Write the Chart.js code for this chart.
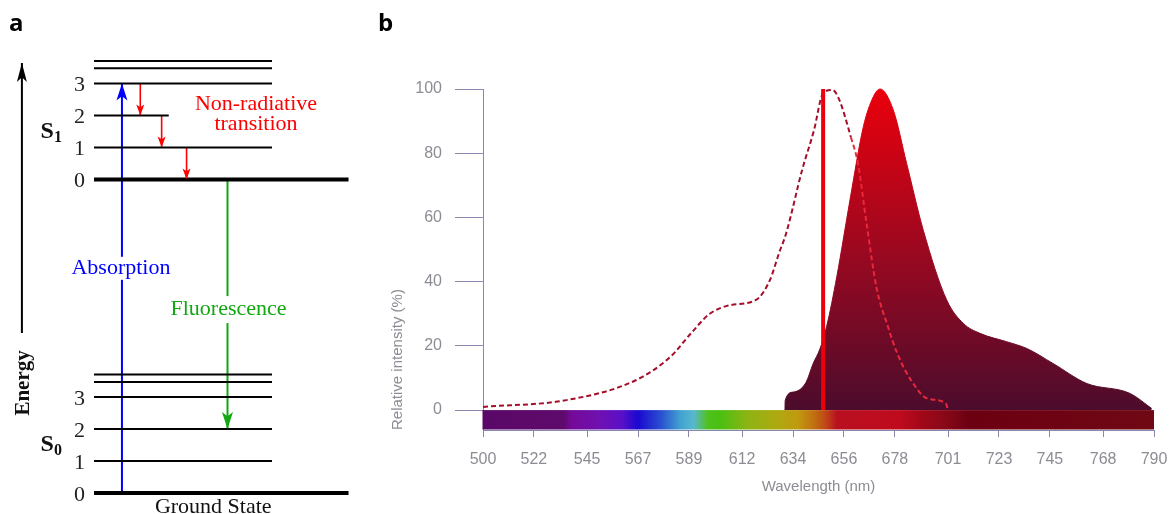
<!DOCTYPE html>
<html>
<head>
<meta charset="utf-8">
<script src="https://cdn.jsdelivr.net/npm/chart.js@4.4.0/dist/chart.umd.min.js"></script>
<style>
  html, body { margin: 0; padding: 0; background: #fff; }
  body { width: 1171px; height: 514px; position: relative; overflow: hidden; }
  #wrapA { position: absolute; left: 0; top: 0; width: 370px; height: 514px; }
  #wrapB { position: absolute; left: 370px; top: 0; width: 801px; height: 514px; }
</style>
</head>
<body>
<div id="wrapA"><canvas id="jablonski"></canvas></div>
<div id="wrapB"><canvas id="spectrum"></canvas></div>
<script>
// ---- panel a : energy levels ----
const levelOffsets = [0, 1, 2, 3, 3.47, 3.7];
const levelTickLabels = ["0", "1", "2", "3"];
const s0Base = 0;
const s1Base = 9.8;
const s0LevelEnds = [14.3, 10, 10, 10, 10, 10];
const s1LevelEnds = [14.3, 10, 4.2, 10, 10, 10];
const absorptionX = 1.57;
const relaxX = [2.6, 3.8, 5.2];
const relaxFrom = [3, 2, 1];
const fluorescenceX = 7.5;
const fluorescenceTo = 2;
const energyAxisX = -4.05;
const energyAxisRange = [5.0, 13.44];

// ---- panel b : spectra ----
const xTicks = [500, 522, 545, 567, 589, 612, 634, 656, 678, 701, 723, 745, 768, 790];
const yTicks = [0, 20, 40, 60, 80, 100];
const absWavelength = [500, 536, 566, 581, 590, 598, 607, 618, 624, 628, 631, 638, 643, 647, 651, 654, 659, 662, 666, 670, 675, 679, 685, 692, 700, 701];
const absIntensity = [1, 3.1, 9.3, 16.6, 24, 30, 32.7, 34.3, 40.5, 49, 55, 75, 87, 98.7, 99.7, 96.6, 85, 77, 57, 38.4, 26, 17.7, 9.3, 3.6, 2.1, 0];
const emWavelength = [630.5, 630.6, 634, 639.5, 642.7, 645.6, 648.5, 652.9, 658.6, 664.4, 668.7, 671.6, 677.3, 683.1, 690.3, 700.4, 707.6, 714.8, 726.3, 735, 746.4, 760.9, 779.6, 789];
const emIntensity = [0, 3, 5.6, 8.5, 14.5, 19, 26, 41.5, 65.4, 88.3, 97.6, 100, 93.5, 76.8, 56, 34.3, 27, 23.9, 21.3, 19.2, 14.5, 8.3, 5.2, 0.5];
const excitationNm = 647;
const excitationPeak = 100;
const barNm = [500, 535, 538, 550, 560, 567, 577, 585, 591, 597, 602, 614, 628, 636, 643, 648, 653, 680, 690, 700, 710, 790];
const barColors = ["#5a0868", "#5e0a6c", "#740a98", "#7010b0", "#5a10c8", "#1a08d0", "#2a50d0", "#40a0d0", "#58b8d0", "#50c020", "#48c010", "#8cb414", "#b0a810", "#c09a10", "#c07010", "#c04818", "#b81020", "#c00a1e", "#a00818", "#880818", "#6c0012", "#700814"];

Chart.defaults.font.family = "Liberation Sans";

const blue = "#0000ff", red = "#ff0000", green = "#11a811";

function seg(x0, y0, x1, y1) { return [{ x: x0, y: y0 }, { x: x1, y: y1 }]; }

const levelSets = [];
[[s0Base, s0LevelEnds], [s1Base, s1LevelEnds]].forEach(([base, ends]) => {
  levelOffsets.forEach((off, i) => {
    levelSets.push({ data: seg(0, base + off, ends[i], base + off), borderColor: "#000", borderWidth: i === 0 ? 4 : 2 });
  });
});
const arrowSets = [
  { data: seg(absorptionX, s0Base, absorptionX, s1Base + 3), borderColor: blue, borderWidth: 2 },
  { data: seg(fluorescenceX, s1Base, fluorescenceX, fluorescenceTo), borderColor: green, borderWidth: 2 },
  { data: seg(energyAxisX, energyAxisRange[0], energyAxisX, energyAxisRange[1]), borderColor: "#000", borderWidth: 2 }
];
relaxX.forEach((rx, i) => {
  arrowSets.push({ data: seg(rx, s1Base + relaxFrom[i], rx, s1Base + relaxFrom[i] - 1), borderColor: red, borderWidth: 1.6 });
});

function arrowHead(ctx, x, tipY, dir, w, len, color) {
  // dir -1 = pointing up, 1 = pointing down
  const back = tipY - dir * len;
  ctx.beginPath();
  ctx.moveTo(x, tipY);
  ctx.lineTo(x - w / 2, back);
  ctx.lineTo(x, tipY - dir * len * 0.75);
  ctx.lineTo(x + w / 2, back);
  ctx.closePath();
  ctx.fillStyle = color;
  ctx.fill();
}

function boxedText(ctx, text, cx, baseline, color, padTop, padBot) {
  const w = ctx.measureText(text).width;
  ctx.fillStyle = "#fff";
  ctx.fillRect(cx - w / 2 - 1, baseline - padTop, w + 2, padTop + padBot);
  ctx.fillStyle = color;
  ctx.textAlign = "center";
  ctx.fillText(text, cx, baseline);
}

const jablonskiDecor = {
  id: "jablonskiDecor",
  afterDatasetsDraw(chart) {
    const { ctx, scales: { x, y } } = chart;
    const px = v => x.getPixelForValue(v);
    const py = v => y.getPixelForValue(v);
    ctx.save();
    ctx.textBaseline = "alphabetic";

    arrowHead(ctx, px(absorptionX), py(s1Base + 3), -1, 11, 17, blue);
    relaxX.forEach((rx, i) => arrowHead(ctx, px(rx), py(s1Base + relaxFrom[i] - 1), 1, 8, 11, red));
    arrowHead(ctx, px(fluorescenceX), py(fluorescenceTo), 1, 11, 17, green);
    arrowHead(ctx, px(energyAxisX), py(energyAxisRange[1]), -1, 10, 19, "#000");

    ctx.font = "22px 'Liberation Serif'";
    ctx.fillStyle = "#222";
    ctx.textAlign = "right";
    [s0Base, s1Base].forEach(base => {
      levelTickLabels.forEach((t, i) => ctx.fillText(t, px(0) - 9, py(base + levelOffsets[i]) + 8));
    });

    // state labels S0 / S1
    [[s0Base, "0"], [s1Base, "1"]].forEach(([base, sub]) => {
      ctx.textAlign = "left";
      ctx.fillStyle = "#111";
      ctx.font = "bold 24px 'Liberation Serif'";
      const bx = px(-3);
      const by = py(base + 1.3);
      ctx.fillText("S", bx, by);
      const sw = ctx.measureText("S").width;
      ctx.font = "bold 16px 'Liberation Serif'";
      ctx.fillText(sub, bx + sw, by + 4);
    });

    ctx.font = "22px 'Liberation Serif'";
    boxedText(ctx, "Absorption", px(absorptionX) - 1, py(6.85), blue, 17, 6);
    boxedText(ctx, "Fluorescence", px(fluorescenceX) + 1, py(5.56), green, 19, 8);
    ctx.fillStyle = red;
    ctx.textAlign = "center";
    const nrY = py(s1Base + 2) - 5;
    ctx.fillText("Non-radiative", px(9.1), nrY);
    ctx.fillText("transition", px(9.1), nrY + 20);

    ctx.fillStyle = "#111";
    ctx.fillText("Ground State", px(6.7), py(-0.62));

    // energy axis title
    ctx.save();
    ctx.translate(px(energyAxisX) + 7, py(3.44));
    ctx.rotate(-Math.PI / 2);
    ctx.font = "bold 21px 'Liberation Serif'";
    ctx.textAlign = "center";
    ctx.fillText("Energy", 0, 0);
    ctx.restore();

    ctx.font = "bold 24px 'Open Sans'";
    ctx.textAlign = "left";
    ctx.fillStyle = "#000";
    ctx.fillText("a", 9, 31);
    ctx.restore();
  }
};

new Chart(document.getElementById("jablonski"), {
  type: "scatter",
  data: {
    datasets: levelSets.concat(arrowSets).map(d => Object.assign({ showLine: true, pointRadius: 0, fill: false, clip: false }, d))
  },
  options: {
    responsive: true,
    maintainAspectRatio: false,
    animation: false,
    devicePixelRatio: 1,
    events: [],
    layout: { padding: { left: 5, right: 9, top: 45, bottom: 5 } },
    plugins: { legend: { display: false }, tooltip: { enabled: false } },
    scales: {
      x: { type: "linear", min: -5, max: 15, display: false },
      y: { type: "linear", min: -0.5, max: 14, display: false }
    }
  },
  plugins: [jablonskiDecor]
});

// ---- panel b ----
const axisColor = "#8a87ad";
const tickColor = "#8c8c94";

function emissionFill(context) {
  const chart = context.chart;
  if (!chart.chartArea) return "#900820";
  const y = chart.scales.y;
  const g = chart.ctx.createLinearGradient(0, y.getPixelForValue(100), 0, y.getPixelForValue(0));
  g.addColorStop(0, "#ea000c");
  g.addColorStop(0.5, "#9c0820");
  g.addColorStop(1, "#4c0c2c");
  return g;
}

const spectrumBar = {
  id: "spectrumBar",
  beforeDatasetsDraw(chart) {
    const { ctx, chartArea, scales: { x, y } } = chart;
    const first = barNm[0], last = barNm[barNm.length - 1];
    const left = x.getPixelForValue(first);
    const right = x.getPixelForValue(last);
    const g = ctx.createLinearGradient(left, 0, right, 0);
    barNm.forEach((nm, i) => g.addColorStop((nm - first) / (last - first), barColors[i]));
    const top = y.getPixelForValue(0);
    ctx.save();
    ctx.fillStyle = g;
    ctx.fillRect(left - 0.5, top, right - left + 0.5, chartArea.bottom - top - 0.5);
    ctx.restore();
  },
  afterDraw(chart) {
    const ctx = chart.ctx;
    ctx.save();
    ctx.font = "bold 24px 'Open Sans'";
    ctx.fillStyle = "#000";
    ctx.textBaseline = "alphabetic";
    ctx.fillText("b", 8, 31);
    ctx.restore();
  }
};

new Chart(document.getElementById("spectrum"), {
  type: "line",
  data: {
    datasets: [
      {
        data: [{ x: excitationNm, y: 0 }, { x: excitationNm, y: excitationPeak }],
        borderColor: "#ec000c",
        borderWidth: 4,
        pointRadius: 0,
        fill: false,
        order: 1
      },
      {
        data: absWavelength.map((w, i) => ({ x: w, y: absIntensity[i] })),
        borderColor: "#a50d2a",
        borderWidth: 2,
        borderDash: [5, 3],
        pointRadius: 0,
        fill: false,
        cubicInterpolationMode: "monotone",
        segment: { borderColor: c => (c.p0.parsed.x >= 659 ? "#e8283c" : "#a50d2a") },
        clip: false,
        order: 2
      },
      {
        data: emWavelength.map((w, i) => ({ x: w, y: emIntensity[i] })),
        borderColor: emissionFill,
        backgroundColor: emissionFill,
        borderWidth: 1,
        pointRadius: 0,
        fill: { value: 0 },
        cubicInterpolationMode: "monotone",
        clip: false,
        order: 3
      }
    ]
  },
  options: {
    responsive: true,
    maintainAspectRatio: false,
    animation: false,
    devicePixelRatio: 1,
    events: [],
    layout: { padding: { left: 0, right: 17, top: 89, bottom: 0 } },
    plugins: { legend: { display: false }, tooltip: { enabled: false } },
    scales: {
      x: {
        type: "linear",
        min: 500,
        max: 790,
        afterBuildTicks: s => { s.ticks = xTicks.map(v => ({ value: v })); },
        afterFit: s => { s.height = 84; s.paddingLeft = 0; s.paddingRight = 0; },
        grid: { drawOnChartArea: false, tickLength: 7, color: axisColor },
        border: { color: axisColor },
        ticks: { color: tickColor, font: { size: 16 }, padding: 13, maxRotation: 0, autoSkip: false },
        title: { display: true, text: "Wavelength (nm)", color: tickColor, font: { size: 15 }, padding: { top: 0, bottom: 18 } }
      },
      y: {
        type: "linear",
        min: -6.2,
        max: 100,
        afterBuildTicks: s => { s.ticks = yTicks.map(v => ({ value: v })); },
        afterFit: s => { s.width = 113; s.paddingTop = 0; s.paddingBottom = 0; },
        grid: { drawOnChartArea: false, tickLength: 28, color: axisColor },
        border: { color: axisColor },
        ticks: { color: tickColor, font: { size: 16 }, padding: 13 },
        title: { display: true, text: "Relative intensity (%)", align: "start", color: tickColor, font: { size: 15 }, padding: { top: 19, bottom: 0 } }
      }
    }
  },
  plugins: [spectrumBar]
});
</script>
</body>
</html>
